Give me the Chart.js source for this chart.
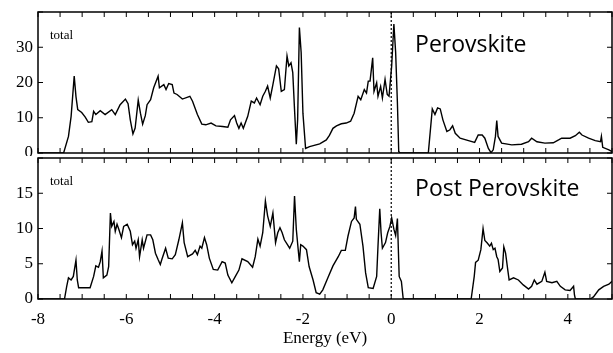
<!DOCTYPE html>
<html>
<head>
<meta charset="utf-8">
<title>Total DOS - Perovskite / Post Perovskite</title>
<script src="https://cdn.jsdelivr.net/npm/chart.js@4.4.1/dist/chart.umd.min.js"></script>
<style>
    html, body { margin: 0; padding: 0; background: #fff; }
    #wrap { position: relative; width: 613px; height: 353px; overflow: hidden; }
    #wrap canvas { position: absolute; left: 0; }
    #topChart { top: 0; }
    #bottomChart { top: 156px; }
</style>
</head>
<body>
<div id="wrap">
    <canvas id="topChart" width="613" height="156"></canvas>
    <canvas id="bottomChart" width="613" height="197"></canvas>
</div>
<script>
/* ========================================
   DOS.JS - total density of states, two panels
   ======================================== */

const panelNames = ['Perovskite', 'Post Perovskite'];
const panelLabel = 'total';
const xTitle = 'Energy (eV)';
const xTickLabels = [-8, -6, -4, -2, 0, 2, 4];
const topTickLabels = [0, 10, 20, 30];
const bottomTickLabels = [0, 5, 10, 15];

// Perovskite (top panel)
const perovEnergy = [
    -8.00, -7.42, -7.31, -7.25, -7.18, -7.14, -7.10, -7.01, -6.93, -6.86,
    -6.78, -6.74, -6.69, -6.59, -6.48, -6.33, -6.25, -6.14, -6.02, -5.96,
    -5.91, -5.85, -5.80, -5.73, -5.68, -5.63, -5.57, -5.53, -5.45, -5.38,
    -5.28, -5.25, -5.15, -5.10, -5.04, -4.96, -4.92, -4.85, -4.73, -4.56,
    -4.50, -4.39, -4.29, -4.20, -4.08, -3.97, -3.82, -3.70, -3.64, -3.55,
    -3.50, -3.45, -3.40, -3.35, -3.25, -3.17, -3.10, -3.05, -2.97, -2.91,
    -2.85, -2.80, -2.74, -2.68, -2.60, -2.55, -2.49, -2.42, -2.36, -2.32,
    -2.27, -2.23, -2.19, -2.15, -2.12, -2.08, -2.04, -2.00, -1.94, -1.85,
    -1.62, -1.47, -1.40, -1.32, -1.24, -1.13, -1.02, -0.92, -0.84, -0.75,
    -0.69, -0.61, -0.56, -0.52, -0.48, -0.42, -0.39, -0.33, -0.30, -0.24,
    -0.20, -0.14, -0.09, -0.05, 0.01, 0.06, 0.10, 0.14, 0.17, 0.20,
    0.84, 0.93, 0.99, 1.05, 1.11, 1.17, 1.26, 1.33, 1.39, 1.45,
    1.56, 1.75, 1.89, 1.97, 2.06, 2.12, 2.20, 2.26, 2.31, 2.36,
    2.39, 2.42, 2.50, 2.73, 2.95, 3.11, 3.18, 3.30, 3.48, 3.67,
    3.79, 3.86, 4.05, 4.17, 4.26, 4.32, 4.47, 4.62, 4.74, 4.76,
    4.79, 4.93, 5.00
];
const perovDos = [
    0, 0, 4.7, 10.4, 21.8, 16.0, 12.3, 11.5, 10.2, 8.7,
    8.9, 11.8, 10.9, 12.0, 10.9, 12.3, 10.9, 13.7, 15.3, 14.0,
    9.4, 5.4, 7.1, 15.0, 11.3, 8.2, 10.6, 13.7, 15.1, 18.5,
    21.8, 18.5, 19.4, 18.0, 19.7, 19.4, 17.0, 16.6, 15.3, 16.1,
    14.7, 10.9, 8.2, 8.0, 8.5, 7.7, 7.5, 7.3, 9.4, 10.6,
    8.5, 7.0, 8.5, 7.0, 10.4, 14.7, 14.2, 15.6, 13.7, 16.1,
    17.5, 19.0, 15.6, 19.4, 24.7, 23.9, 17.5, 18.0, 27.5, 24.7,
    25.6, 22.8, 12.3, 2.5, 9.4, 35.6, 28.5, 11.3, 1.3, 1.8,
    2.6, 3.7, 5.0, 7.0, 7.7, 8.3, 8.5, 9.0, 11.3, 16.1,
    15.1, 18.0, 17.0, 20.4, 20.4, 27.0, 17.5, 19.9, 16.1, 18.9,
    15.6, 20.9, 16.6, 16.1, 24.7, 36.6, 28.5, 14.2, 0.4, 0,
    0, 12.5, 10.9, 12.8, 12.5, 9.4, 6.1, 6.6, 7.7, 5.6,
    4.2, 3.5, 3.0, 5.1, 5.1, 4.2, 1.3, 0.1, 0.9, 4.7,
    9.2, 4.7, 2.8, 2.3, 2.5, 3.2, 4.2, 3.2, 2.8, 2.9,
    3.7, 4.2, 4.2, 4.9, 5.9, 5.1, 4.2, 3.5, 3.2, 4.7,
    1.6, 0.9, 0.4
];

// Post Perovskite (bottom panel)
const postEnergy = [
    -8.00, -7.40, -7.35, -7.31, -7.25, -7.20, -7.14, -7.11, -7.08, -6.82,
    -6.74, -6.69, -6.63, -6.59, -6.55, -6.52, -6.44, -6.40, -6.36, -6.33,
    -6.28, -6.25, -6.21, -6.17, -6.11, -6.06, -5.98, -5.91, -5.86, -5.81,
    -5.78, -5.73, -5.70, -5.64, -5.61, -5.53, -5.45, -5.40, -5.34, -5.28,
    -5.23, -5.19, -5.11, -5.05, -4.96, -4.89, -4.81, -4.73, -4.69, -4.61,
    -4.50, -4.44, -4.39, -4.33, -4.29, -4.23, -4.18, -4.12, -4.03, -3.93,
    -3.83, -3.76, -3.70, -3.61, -3.53, -3.45, -3.38, -3.25, -3.14, -3.08,
    -3.02, -2.97, -2.91, -2.85, -2.80, -2.74, -2.68, -2.62, -2.57, -2.52,
    -2.47, -2.42, -2.30, -2.23, -2.19, -2.15, -2.11, -2.08, -2.05, -2.00,
    -1.92, -1.86, -1.77, -1.70, -1.62, -1.55, -1.43, -1.32, -1.20, -1.13,
    -1.04, -0.98, -0.90, -0.84, -0.81, -0.79, -0.71, -0.64, -0.58, -0.52,
    -0.41, -0.33, -0.30, -0.26, -0.23, -0.20, -0.13, -0.08, -0.03, 0.01,
    0.06, 0.10, 0.14, 0.18, 0.23, 0.27, 0.30, 1.81, 1.88, 1.91,
    1.97, 2.03, 2.08, 2.12, 2.18, 2.23, 2.27, 2.31, 2.35, 2.39,
    2.42, 2.46, 2.52, 2.55, 2.59, 2.64, 2.67, 2.77, 2.88, 2.99,
    3.11, 3.18, 3.24, 3.30, 3.41, 3.48, 3.52, 3.64, 3.75, 3.83,
    3.94, 4.05, 4.13, 4.15, 4.17, 4.51, 4.58, 4.70, 4.81, 4.93,
    5.00
];
const postDos = [
    0, 0, 1.8, 3.0, 2.7, 3.2, 5.5, 2.7, 1.6, 1.6,
    3.2, 4.7, 4.5, 5.3, 6.8, 3.0, 3.4, 4.6, 12.2, 10.3,
    11.0, 9.6, 10.6, 9.9, 8.7, 10.3, 10.6, 9.6, 7.7, 8.2,
    7.2, 8.4, 6.0, 8.4, 7.2, 9.1, 9.1, 8.4, 6.5, 5.6,
    4.9, 5.7, 7.2, 5.8, 5.7, 6.3, 8.4, 10.8, 8.0, 6.0,
    6.4, 6.9, 6.3, 7.5, 7.2, 8.7, 7.7, 5.8, 4.2, 4.1,
    5.3, 5.1, 3.4, 2.3, 3.2, 4.1, 5.7, 5.3, 4.5, 6.0,
    8.5, 7.5, 9.4, 13.9, 11.8, 10.3, 12.2, 8.0, 9.4, 10.1,
    9.4, 8.4, 7.2, 8.2, 14.6, 9.9, 7.2, 5.3, 7.7, 7.5,
    7.0, 4.6, 2.7, 0.9, 0.7, 1.3, 3.1, 4.7, 6.0, 6.9,
    6.9, 8.9, 11.0, 11.5, 13.1, 11.3, 10.6, 7.5, 3.7, 1.6,
    1.5, 3.2, 7.5, 12.8, 9.4, 7.2, 8.0, 9.4, 10.3, 11.5,
    9.9, 9.0, 11.4, 3.2, 2.5, 0.1, 0, 0, 3.2, 5.2,
    5.5, 7.0, 10.0, 8.3, 7.9, 7.5, 7.9, 7.0, 7.2, 6.0,
    5.6, 3.9, 4.4, 7.4, 6.5, 4.1, 2.7, 3.0, 2.7, 2.0,
    1.4, 1.8, 2.7, 2.1, 2.5, 3.8, 2.5, 2.3, 2.5, 1.8,
    1.3, 1.2, 1.8, 0.6, 0, 0, 0.3, 1.3, 1.8, 2.1,
    2.5
];

const SERIF = '"Liberation Serif", "DejaVu Serif", serif';
const SANS = '"Open Sans", "Noto Sans", sans-serif';

// frame, inward ticks, dotted Fermi level and the panel labels
const panelDecor = {
    id: 'panelDecor',
    afterDatasetsDraw(chart, args, opts) {
        const { ctx, chartArea: a } = chart;
        const x = chart.scales.x, y = chart.scales.y;
        const seg = (x1, y1, x2, y2) => {
            ctx.beginPath(); ctx.moveTo(x1, y1); ctx.lineTo(x2, y2); ctx.stroke();
        };
        ctx.save();
        ctx.strokeStyle = '#000';

        // E = 0
        const x0 = x.getPixelForValue(0);
        ctx.lineWidth = 1.2;
        ctx.setLineDash([2, 2]);
        seg(x0, a.top, x0, a.bottom);
        ctx.setLineDash([]);

        ctx.lineWidth = 1;
        x.ticks.forEach(t => {
            const px = x.getPixelForValue(t.value);
            seg(px, a.top, px, a.top + 5);
            seg(px, a.bottom, px, a.bottom - 5);
        });
        y.ticks.forEach(t => {
            const py = y.getPixelForValue(t.value);
            seg(a.left, py, a.left + 5, py);
            seg(a.right, py, a.right - 5, py);
        });

        ctx.lineWidth = 1.5;
        ctx.strokeRect(a.left, a.top, a.width, a.height);

        ctx.fillStyle = '#000';
        ctx.textBaseline = 'alphabetic';
        ctx.textAlign = 'left';
        ctx.font = '13px ' + SERIF;
        ctx.fillText(panelLabel, a.left + 12, a.top + 27);
        ctx.font = '23px ' + SANS;
        ctx.fillText(opts.name, x.getPixelForValue(0.54), a.top + opts.nameDrop);
        ctx.restore();
    }
};

function toPoints(xs, ys) {
    return xs.map((e, i) => ({ x: e, y: ys[i] }));
}

function noEdgePadding(scale) {
    scale.paddingTop = 0;
    scale.paddingBottom = 0;
    scale.paddingLeft = 0;
    scale.paddingRight = 0;
}

function buildPanel(canvasId, points, cfg) {
    const ctx = document.getElementById(canvasId);
    if (!ctx) return;

    new Chart(ctx, {
        type: 'line',
        data: {
            datasets: [{
                data: points,
                borderColor: '#000',
                borderWidth: 1.4,
                pointRadius: 0,
                tension: 0,
                fill: false
            }]
        },
        options: {
            responsive: false,
            animation: false,
            devicePixelRatio: 1,
            layout: { padding: { top: cfg.padTop, right: 1, left: 0, bottom: 0 } },
            plugins: {
                legend: { display: false },
                tooltip: { enabled: false },
                panelDecor: { name: cfg.name, nameDrop: cfg.nameDrop }
            },
            scales: {
                x: {
                    type: 'linear',
                    min: -8,
                    max: 5,
                    grid: { display: false, drawTicks: false },
                    border: { display: false },
                    ticks: {
                        display: cfg.showX,
                        stepSize: 0.5,
                        autoSkip: false,
                        maxRotation: 0,
                        padding: 10,
                        color: '#000',
                        font: { family: SERIF, size: 17 },
                        callback: v => xTickLabels.includes(v) ? v : ''
                    },
                    title: {
                        display: cfg.showX,
                        text: xTitle,
                        color: '#000',
                        font: { family: SERIF, size: 17 },
                        padding: { top: 0, bottom: 4 }
                    },
                    afterFit: scale => { scale.height = cfg.xHeight; noEdgePadding(scale); }
                },
                y: {
                    min: 0,
                    max: cfg.yMax,
                    grid: { display: false, drawTicks: false },
                    border: { display: false },
                    ticks: {
                        stepSize: cfg.yStep,
                        padding: 5,
                        color: '#000',
                        font: { family: SERIF, size: 17 },
                        callback: v => cfg.yLabels.includes(v) ? v : ''
                    },
                    afterFit: scale => { scale.width = 38; noEdgePadding(scale); }
                }
            }
        },
        plugins: [panelDecor]
    });
}

document.addEventListener('DOMContentLoaded', function() {
    buildPanel('topChart', toPoints(perovEnergy, perovDos), {
        name: panelNames[0], nameDrop: 40, padTop: 12,
        showX: false, xHeight: 3, yMax: 40, yStep: 10, yLabels: topTickLabels
    });
    buildPanel('bottomChart', toPoints(postEnergy, postDos), {
        name: panelNames[1], nameDrop: 38, padTop: 2,
        showX: true, xHeight: 54, yMax: 20, yStep: 5, yLabels: bottomTickLabels
    });
});
</script>
</body>
</html>
